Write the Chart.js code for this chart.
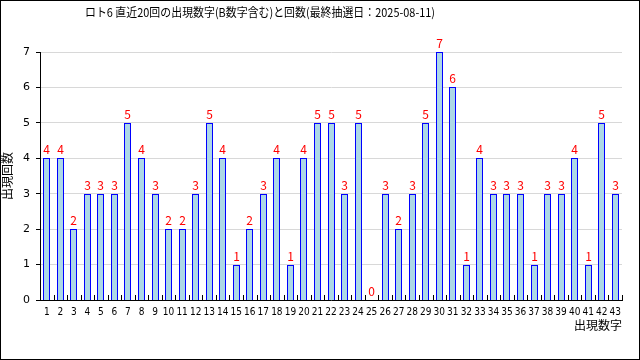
<!DOCTYPE html>
<html><head><meta charset="utf-8">
<script src="https://cdn.jsdelivr.net/npm/chart.js@4/dist/chart.umd.min.js"></script>
<style>html,body{margin:0;padding:0;background:#fff}#c{display:block}</style>
</head><body>
<canvas id="c" width="640" height="360"></canvas>
<script>
const categories = Array.from({length:43},(_,i)=>String(i+1));
const counts = [4,4,2,3,3,3,5,4,3,2,2,3,5,4,1,2,3,4,1,4,5,5,3,5,0,3,2,3,5,7,6,1,4,3,3,3,1,3,3,4,1,5,3];
const yTicks = [0,1,2,3,4,5,6,7];
const titleText = 'ロト6 直近20回の出現数字(B数字含む)と回数(最終抽選日：2025-08-11)';
const jp = '"Noto Sans CJK JP", "DejaVu Sans", sans-serif';

const decor = {
  id:'decor',
  beforeDraw(chart){
    const ctx=chart.ctx; ctx.save(); ctx.fillStyle='#fff'; ctx.fillRect(0,0,chart.width,chart.height); ctx.restore();
  },
  beforeDatasetsDraw(chart){
    // snap library-computed bar positions to the pixel grid for crisp 1px borders
    chart.getDatasetMeta(0).data.forEach(el=>{
      el.x = Math.floor(el.x)+0.5;
      el.y = Math.round(el.y);
      el.base = Math.round(el.base)+1;
    });
  },
  afterDraw(chart){
    const ctx=chart.ctx, x=chart.scales.x, a=chart.chartArea;
    ctx.save();
    ctx.strokeStyle='#000'; ctx.lineWidth=1;
    ctx.strokeRect(0.5,0.5,chart.width-1,chart.height-1);
    ctx.beginPath();
    for(let i=0;i<=categories.length;i++){
      const px=Math.round(x.getPixelForValue(i-0.5))+0.5;
      ctx.moveTo(px,a.bottom); ctx.lineTo(px,a.bottom-5);
    }
    ctx.stroke();
    ctx.fillStyle='#000'; ctx.font='12px '+jp; ctx.textAlign='left'; ctx.textBaseline='middle';
    ctx.fillText(titleText, 85, 12, 350);
    const meta=chart.getDatasetMeta(0);
    ctx.fillStyle='#ff0000'; ctx.font='12px '+jp; ctx.textAlign='center'; ctx.textBaseline='bottom';
    meta.data.forEach((el,i)=>{ ctx.fillText(String(counts[i]), el.x, el.y-3); });
    ctx.restore();
  }
};

new Chart(document.getElementById('c'),{
  type:'bar',
  data:{labels:categories,datasets:[{data:counts,backgroundColor:'#add8e6',borderColor:'#0000ff',borderWidth:1,barThickness:7,categoryPercentage:1,inflateAmount:0,borderSkipped:false}]},
  options:{
    responsive:false,animation:false,
    layout:{padding:{left:0,right:18,top:52,bottom:27}},
    plugins:{legend:{display:false},tooltip:{enabled:false},title:{display:false}},
    scales:{
      x:{
        grid:{display:true,drawOnChartArea:false,drawTicks:false,color:'#000'},
        border:{display:true,color:'#000'},
        ticks:{autoSkip:false,maxRotation:0,minRotation:0,color:'#000',padding:6,font:{family:'"DejaVu Sans Condensed", "DejaVu Sans", sans-serif',size:10}},
        title:{display:true,text:'出現数字',align:'end',color:'#000',font:{family:jp,size:12},padding:{top:0,bottom:0}},
        afterFit(s){s.height=33;}
      },
      y:{
        min:0,max:7,
        afterBuildTicks(s){s.ticks=yTicks.map(v=>({value:v}));},
        grid:{color:'#d8d8d8',tickLength:4,tickColor:'#000'},
        border:{display:true,color:'#000'},
        ticks:{color:'#000',padding:6,font:{family:'"DejaVu Sans", sans-serif',size:11}},
        title:{display:true,text:'出現回数',color:'#000',font:{family:jp,size:12},padding:{top:0,bottom:4}},
        afterFit(s){s.width=40;}
      }
    }
  },
  plugins:[decor]
});
</script>
</body></html>
